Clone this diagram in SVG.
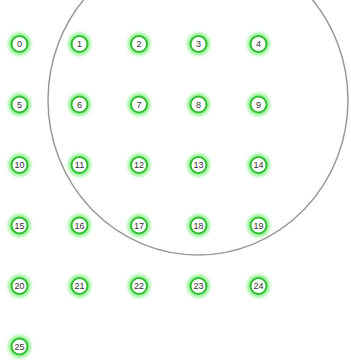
<svg xmlns="http://www.w3.org/2000/svg" width="351" height="363" viewBox="0 0 351 363">
<style>
.n circle.g{fill:none;stroke:#55ee55;stroke-width:6;opacity:0.6;filter:url(#blur)}
.n circle.c{fill:#ffffff;stroke:#33bb33;stroke-width:2}
.n text{font-family:"Liberation Sans",Arial,sans-serif;font-size:9px;fill:#333;text-anchor:middle;dominant-baseline:central}
</style>
<defs>
<filter id="blur" x="-1" y="-1" width="3" height="3"><feGaussianBlur stdDeviation="1.8"/></filter>
</defs>
<rect width="351" height="363" fill="#ffffff"/>
<g id="connectors">
<ellipse cx="198" cy="100" rx="150" ry="155" fill="none" stroke="#999999" stroke-width="1.5"/>
</g>
<g id="n0" class="n"><circle class="g" cx="19.5" cy="44" r="8.5"/><circle class="c" cx="19.5" cy="44" r="8"/><text x="19.5" y="44">0</text></g>
<g id="n1" class="n"><circle class="g" cx="79.5" cy="44" r="8.5"/><circle class="c" cx="79.5" cy="44" r="8"/><text x="79.5" y="44">1</text></g>
<g id="n2" class="n"><circle class="g" cx="139" cy="44" r="8.5"/><circle class="c" cx="139" cy="44" r="8"/><text x="139" y="44">2</text></g>
<g id="n3" class="n"><circle class="g" cx="198.5" cy="44" r="8.5"/><circle class="c" cx="198.5" cy="44" r="8"/><text x="198.5" y="44">3</text></g>
<g id="n4" class="n"><circle class="g" cx="258.5" cy="44" r="8.5"/><circle class="c" cx="258.5" cy="44" r="8"/><text x="258.5" y="44">4</text></g>
<g id="n5" class="n"><circle class="g" cx="19.5" cy="104.5" r="8.5"/><circle class="c" cx="19.5" cy="104.5" r="8"/><text x="19.5" y="104.5">5</text></g>
<g id="n6" class="n"><circle class="g" cx="79.5" cy="104.5" r="8.5"/><circle class="c" cx="79.5" cy="104.5" r="8"/><text x="79.5" y="104.5">6</text></g>
<g id="n7" class="n"><circle class="g" cx="139" cy="104.5" r="8.5"/><circle class="c" cx="139" cy="104.5" r="8"/><text x="139" y="104.5">7</text></g>
<g id="n8" class="n"><circle class="g" cx="198.5" cy="104.5" r="8.5"/><circle class="c" cx="198.5" cy="104.5" r="8"/><text x="198.5" y="104.5">8</text></g>
<g id="n9" class="n"><circle class="g" cx="258.5" cy="104.5" r="8.5"/><circle class="c" cx="258.5" cy="104.5" r="8"/><text x="258.5" y="104.5">9</text></g>
<g id="n10" class="n"><circle class="g" cx="19.5" cy="165" r="8.5"/><circle class="c" cx="19.5" cy="165" r="8"/><text x="19.5" y="165">10</text></g>
<g id="n11" class="n"><circle class="g" cx="79.5" cy="165" r="8.5"/><circle class="c" cx="79.5" cy="165" r="8"/><text x="79.5" y="165">11</text></g>
<g id="n12" class="n"><circle class="g" cx="139" cy="165" r="8.5"/><circle class="c" cx="139" cy="165" r="8"/><text x="139" y="165">12</text></g>
<g id="n13" class="n"><circle class="g" cx="198.5" cy="165" r="8.5"/><circle class="c" cx="198.5" cy="165" r="8"/><text x="198.5" y="165">13</text></g>
<g id="n14" class="n"><circle class="g" cx="258.5" cy="165" r="8.5"/><circle class="c" cx="258.5" cy="165" r="8"/><text x="258.5" y="165">14</text></g>
<g id="n15" class="n"><circle class="g" cx="19.5" cy="225.5" r="8.5"/><circle class="c" cx="19.5" cy="225.5" r="8"/><text x="19.5" y="225.5">15</text></g>
<g id="n16" class="n"><circle class="g" cx="79.5" cy="225.5" r="8.5"/><circle class="c" cx="79.5" cy="225.5" r="8"/><text x="79.5" y="225.5">16</text></g>
<g id="n17" class="n"><circle class="g" cx="139" cy="225.5" r="8.5"/><circle class="c" cx="139" cy="225.5" r="8"/><text x="139" y="225.5">17</text></g>
<g id="n18" class="n"><circle class="g" cx="198.5" cy="225.5" r="8.5"/><circle class="c" cx="198.5" cy="225.5" r="8"/><text x="198.5" y="225.5">18</text></g>
<g id="n19" class="n"><circle class="g" cx="258.5" cy="225.5" r="8.5"/><circle class="c" cx="258.5" cy="225.5" r="8"/><text x="258.5" y="225.5">19</text></g>
<g id="n20" class="n"><circle class="g" cx="19.5" cy="286" r="8.5"/><circle class="c" cx="19.5" cy="286" r="8"/><text x="19.5" y="286">20</text></g>
<g id="n21" class="n"><circle class="g" cx="79.5" cy="286" r="8.5"/><circle class="c" cx="79.5" cy="286" r="8"/><text x="79.5" y="286">21</text></g>
<g id="n22" class="n"><circle class="g" cx="139" cy="286" r="8.5"/><circle class="c" cx="139" cy="286" r="8"/><text x="139" y="286">22</text></g>
<g id="n23" class="n"><circle class="g" cx="198.5" cy="286" r="8.5"/><circle class="c" cx="198.5" cy="286" r="8"/><text x="198.5" y="286">23</text></g>
<g id="n24" class="n"><circle class="g" cx="258.5" cy="286" r="8.5"/><circle class="c" cx="258.5" cy="286" r="8"/><text x="258.5" y="286">24</text></g>
<g id="n25" class="n"><circle class="g" cx="19.5" cy="346.5" r="8.5"/><circle class="c" cx="19.5" cy="346.5" r="8"/><text x="19.5" y="346.5">25</text></g>
</svg>
